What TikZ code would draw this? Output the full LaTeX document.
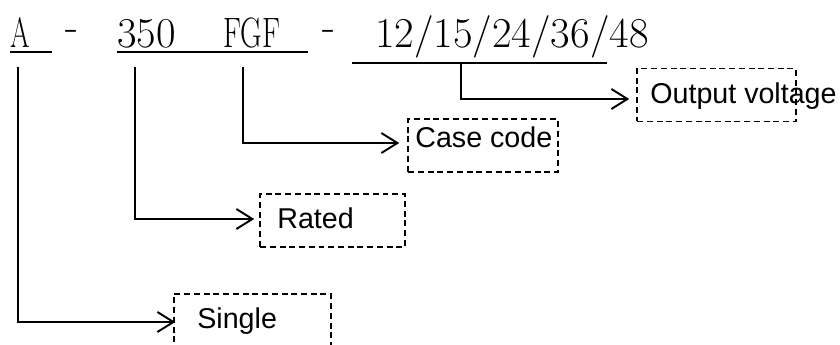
\documentclass[tikz,border=0pt]{standalone}
\usepackage{fontspec}
\usepackage{graphicx}
\setsansfont{Liberation Sans}
\usetikzlibrary{arrows.meta}

\begin{document}
\begin{tikzpicture}[x=0.02cm, y=-0.02cm,
    code/.style={inner sep=0pt, anchor=base west, font=\fontsize{24.2}{29}\selectfont},
    uline/.style={line width=0.75pt},
    conn/.style={line width=1.1pt, -{Straight Barb[length=0.32cm, width=0.4cm, line width=1.1pt]}},
    lblbox/.style={draw, dash pattern=on 0.12cm off 0.075cm, line width=0.9pt, minimum height=1.06cm, inner sep=0pt},
    lbl/.style={inner sep=0pt, anchor=base west, font=\sffamily\fontsize{16.3}{19}\selectfont}]
\useasboundingbox (0,0) rectangle (840,345);
% part number
\node[code] (pA) at (10,47) {\scalebox{0.66}[1]{A}};
\node[code] (d1) at (65,40) {-};
\node[code] (p350) at (117,47) {350};
\node[code] (pFGF) at (223,47) {\scalebox{0.7}[1]{FGF}};
\node[code] (d2) at (322,40) {-};
\node[code] (pV) at (375,47) {12/15/24/36/48};
\draw[uline] (10,52) -- (52,52);
\draw[uline] (117,52) -- (308,52);
\draw[uline] (352,63) -- (607,63);
% stems
\coordinate (sA) at (18,67);
\coordinate (s350) at (135,67);
\coordinate (sFGF) at (243,67);
\coordinate (sV) at (461,63);
% boxes
\node[lblbox, minimum width=3.18cm] (boxV) at (716.5,95) {};
\node[lblbox, minimum width=3.0cm] (boxFGF) at (483,145.5) {};
\node[lblbox, minimum width=2.9cm] (box350) at (332.5,220.5) {};
\node[lblbox, minimum width=3.14cm] (boxA) at (252.5,320.5) {};
\node[lbl] (lV) at (650,103) {Output voltage};
\node[lbl] (lFGF) at (415,147) {Case code};
\node[lbl] (l350) at (277,228) {Rated};
\node[lbl] (lA) at (197,328) {Single};
% arrows
\draw[conn] (sV) |- ([xshift=-0.14cm, yshift=-0.08cm]boxV.west);
\draw[conn] (sFGF) |- ([xshift=-0.16cm, yshift=0.05cm]boxFGF.west);
\draw[conn] (s350) |- ([xshift=-0.1cm, yshift=0.03cm]box350.west);
\draw[conn] (sA) |- ([xshift=0.04cm, yshift=-0.03cm]boxA.west);
\end{tikzpicture}
\end{document}
